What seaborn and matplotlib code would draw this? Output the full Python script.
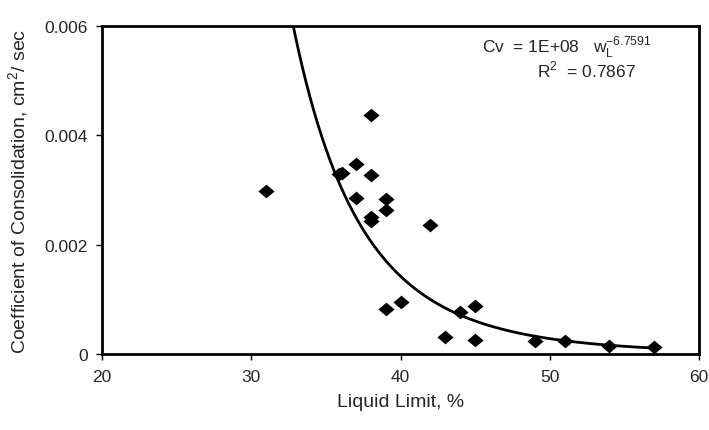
import numpy as np
import pandas as pd
import matplotlib
matplotlib.use("Agg")
import matplotlib.pyplot as plt
import seaborn as sns

# ---- data ----
liquid_limit = [31, 35.9, 36.1, 37, 37, 38, 38, 38, 38, 39, 39, 42,
                39, 40, 43, 44, 45, 45, 49, 51, 54, 57]
cv_values = [0.00298, 0.00330, 0.00332, 0.00347, 0.00285, 0.00437, 0.00328,
             0.00250, 0.00244, 0.00283, 0.00263, 0.00236,
             0.00083, 0.00095, 0.00032, 0.00077, 0.00087, 0.00026,
             0.00023, 0.00023, 0.00015, 0.00012]
x_ticks = [20, 30, 40, 50, 60]
y_ticks = [0, 0.002, 0.004, 0.006]
y_tick_labels = ["0", "0.002", "0.004", "0.006"]
eq_text = r"Cv  = 1E+08   w$_\mathregular{L}^\mathregular{-6.7591}$"
r2_text = r"R$^\mathregular{2}$  = 0.7867"

sns.set_style("ticks")
plt.rcParams["font.family"] = ["Liberation Sans", "DejaVu Sans"]

df = pd.DataFrame({"ll": liquid_limit, "cv": cv_values})

# power trendline (least squares in log space, as a spreadsheet trendline)
b, a = np.polyfit(np.log(df["ll"]), np.log(df["cv"]), 1)
xs = np.linspace(min(liquid_limit), max(liquid_limit), 300)
trend = pd.DataFrame({"ll": xs, "cv": np.exp(a) * xs ** b})

diamond = [(-1.0, 0.0), (0.0, 0.85), (1.0, 0.0), (0.0, -0.85), (-1.0, 0.0)]

fig = plt.figure(figsize=(7.09, 4.31), dpi=100)
ax = fig.add_axes([0.1439, 0.1763, 0.8420, 0.7611])

sns.lineplot(data=trend, x="ll", y="cv", ax=ax, color="black", linewidth=2.0)
sns.scatterplot(data=df, x="ll", y="cv", ax=ax, marker=diamond, s=135,
                color="black", edgecolor="black", linewidth=0, zorder=3)

ax.set_xlim(20, 60)
ax.set_ylim(0, 0.006)
ax.set_xticks(x_ticks)
ax.set_yticks(y_ticks)
ax.set_yticklabels(y_tick_labels)
ax.set_xlabel("Liquid Limit, %", fontsize=14, labelpad=6)
ax.set_ylabel(r"Coefficient of Consolidation, cm$^\mathregular{2}$/ sec", fontsize=14, labelpad=10)
ax.tick_params(axis="both", labelsize=12.5, length=4, width=1, direction="out",
               color="black")
ax.tick_params(axis="x", pad=7)
ax.tick_params(axis="y", pad=6)

for sp in ax.spines.values():
    sp.set_visible(True)
    sp.set_linewidth(2.0)
    sp.set_color("black")

ax.text(0.636, 0.921, eq_text, transform=ax.transAxes, fontsize=12.5)
ax.text(0.728, 0.845, r2_text, transform=ax.transAxes, fontsize=12.5)

fig.savefig("out.png", dpi=100)
